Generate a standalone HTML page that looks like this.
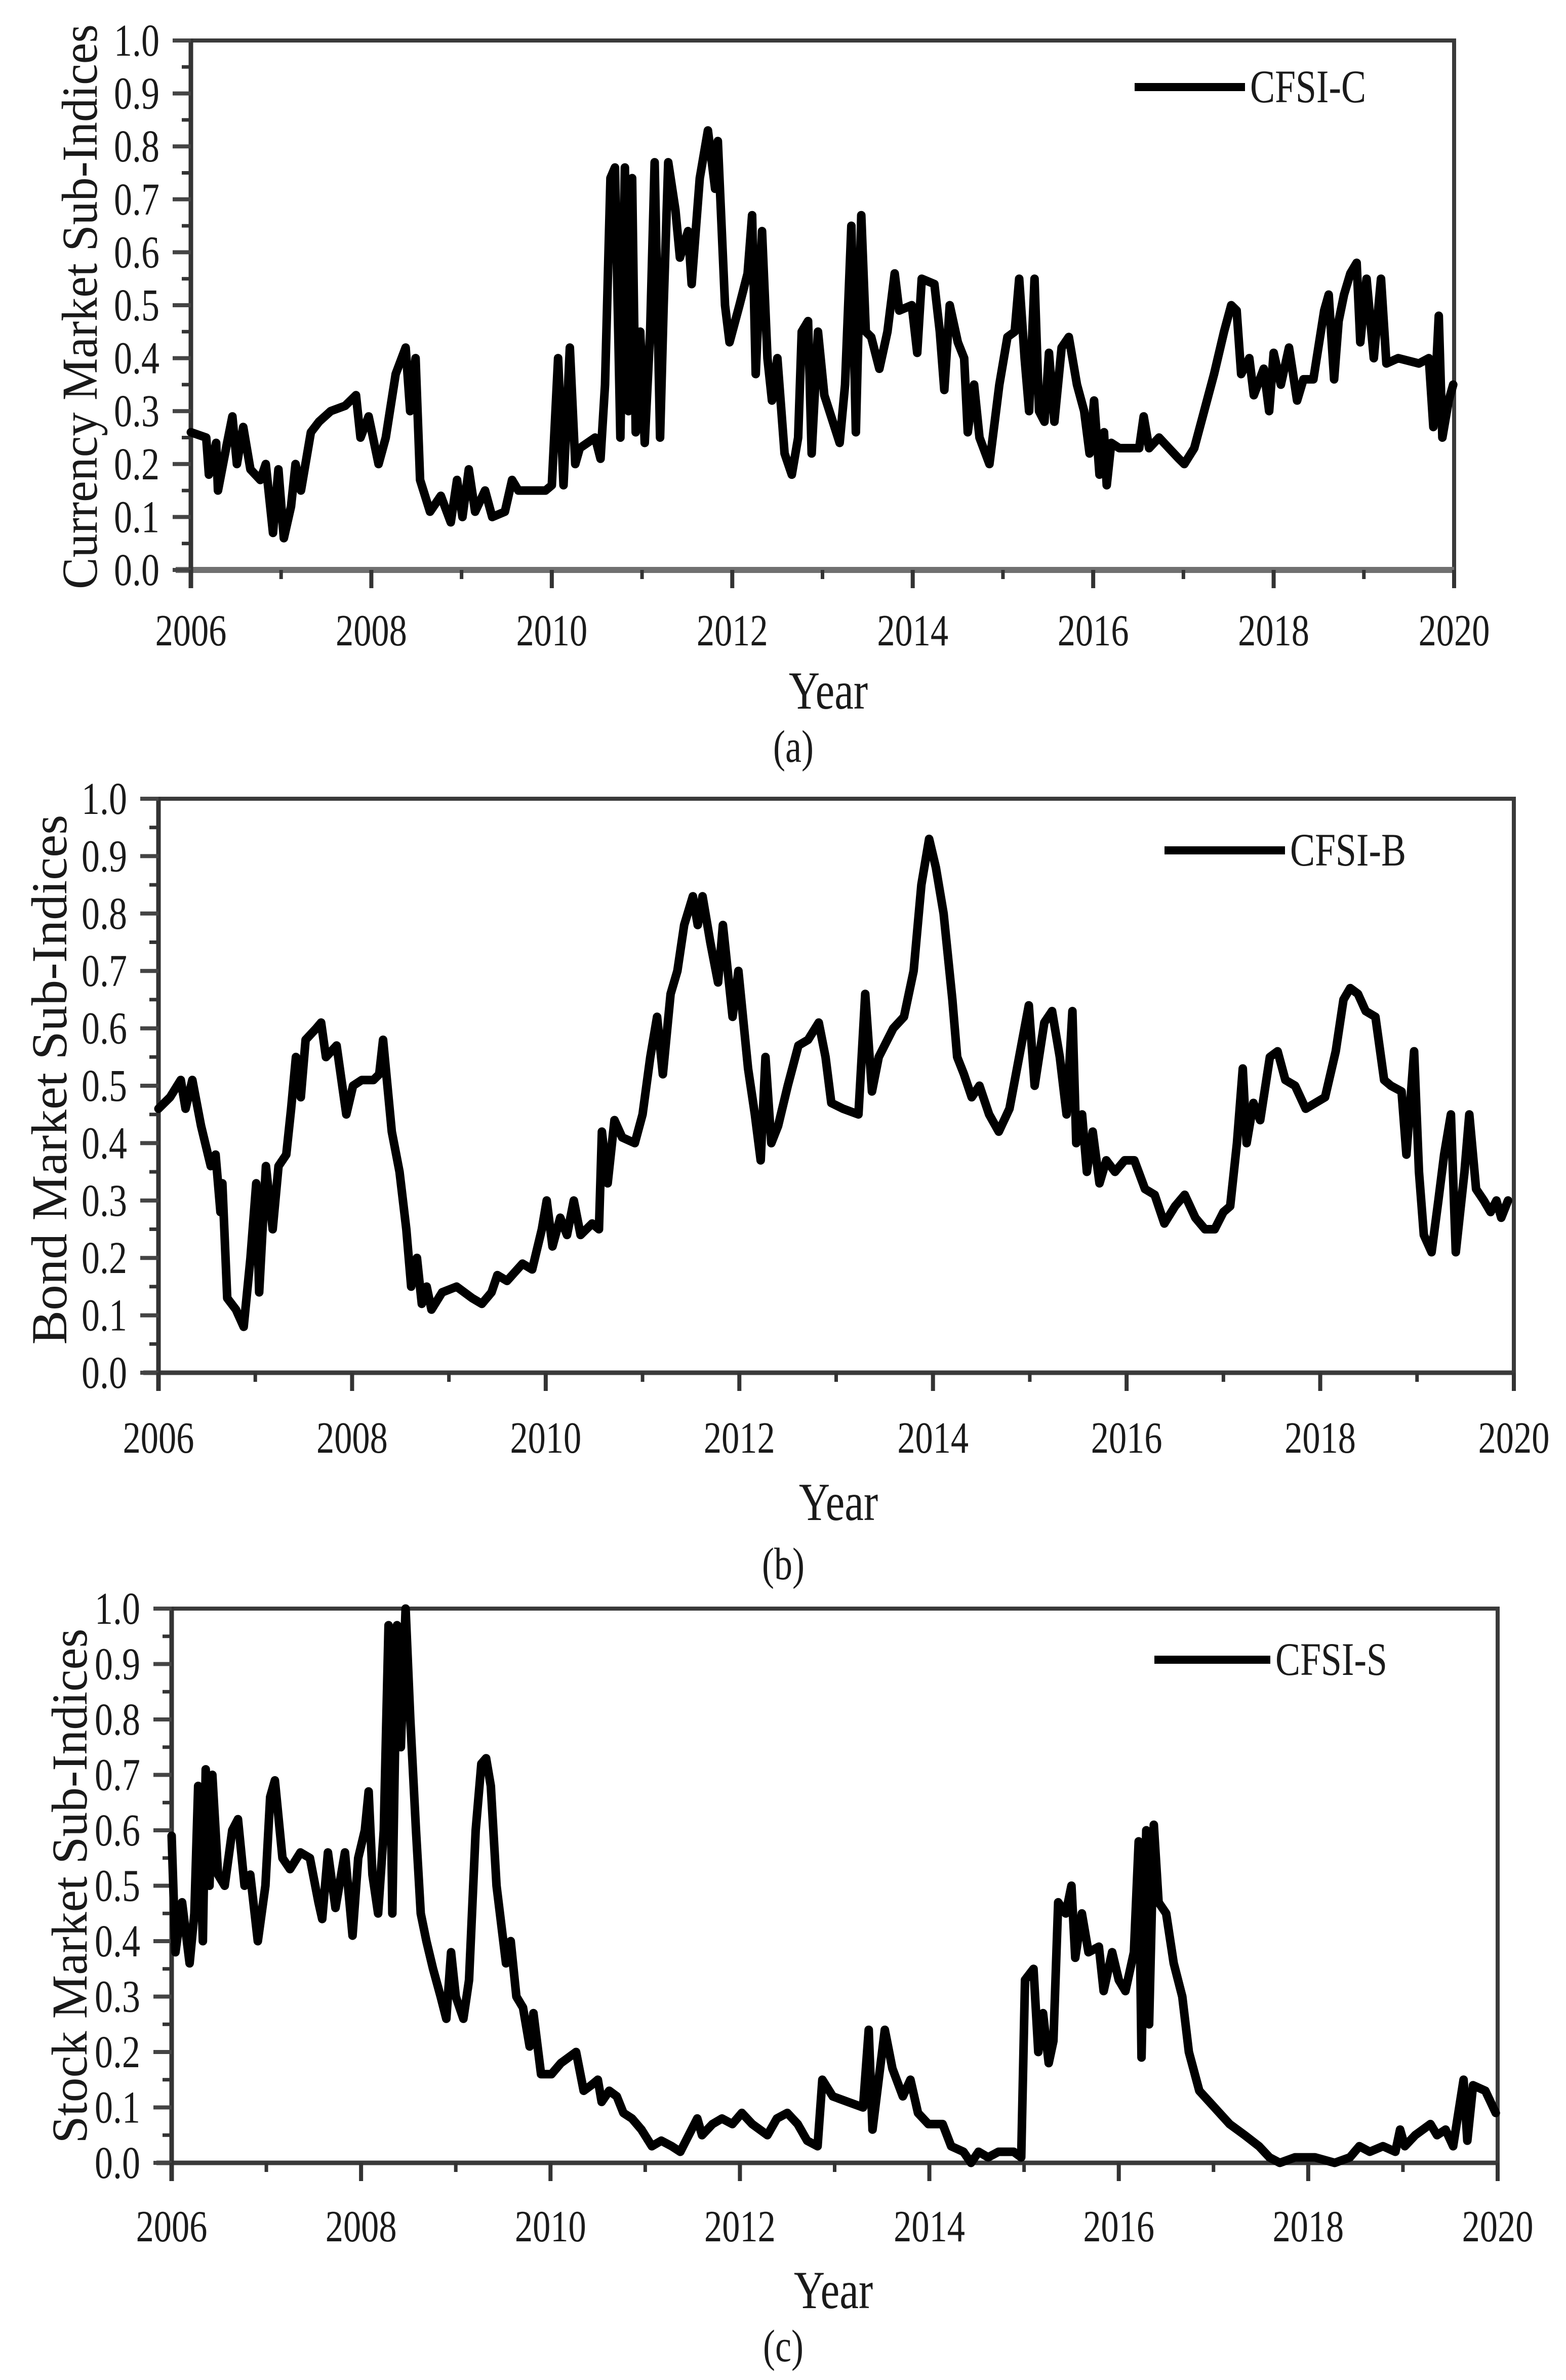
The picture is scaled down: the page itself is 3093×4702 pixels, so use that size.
<!DOCTYPE html>
<html><head><meta charset="utf-8"><style>
html,body{margin:0;padding:0;background:#fff;}
svg{display:block;}
text{font-family:"Liberation Serif",serif;fill:#1a1a1a;}
</style></head><body>
<svg id="fig" width="3093" height="4702" viewBox="0 0 3093 4702" xmlns="http://www.w3.org/2000/svg"></svg>
<script>
// ---- Data ----
const yTicks = [0.0,0.1,0.2,0.3,0.4,0.5,0.6,0.7,0.8,0.9,1.0];
const xTickYears = [2006,2008,2010,2012,2014,2016,2018,2020];
const seriesNames = ["CFSI-C","CFSI-B","CFSI-S"];
const axisTitles = ["Currency Market Sub-Indices","Bond Market Sub-Indices","Stock Market Sub-Indices"];
const panelLabels = ["(a)","(b)","(c)"];

const currencyOffsets = [0,.17,.20,.28,.30,.39,.46,.51,.58,.66,.77,.83,.91,.97,1.03,1.11,1.16,1.22,1.33,1.42,1.55,1.71,1.83,1.88,1.97,2.08,2.16,2.27,2.38,2.43,2.49,2.54,2.65,2.77,2.88,2.95,3.01,3.08,3.15,3.26,3.34,3.48,3.56,3.63,3.76,3.93,4.00,4.07,4.13,4.20,4.26,4.31,4.48,4.54,4.59,4.65,4.70,4.76,4.81,4.85,4.89,4.93,4.98,5.03,5.09,5.14,5.20,5.24,5.29,5.37,5.42,5.51,5.55,5.64,5.73,5.81,5.84,5.92,5.97,6.08,6.17,6.22,6.26,6.33,6.39,6.44,6.50,6.58,6.66,6.73,6.77,6.84,6.88,6.95,7.02,7.19,7.25,7.32,7.37,7.43,7.48,7.54,7.63,7.72,7.80,7.85,7.99,8.05,8.10,8.24,8.30,8.35,8.41,8.50,8.57,8.61,8.68,8.74,8.85,8.96,9.05,9.13,9.18,9.24,9.29,9.35,9.40,9.46,9.51,9.57,9.65,9.73,9.82,9.90,9.96,10.01,10.07,10.12,10.15,10.20,10.29,10.51,10.56,10.62,10.73,10.84,10.95,11.01,11.12,11.23,11.34,11.45,11.53,11.59,11.64,11.73,11.78,11.89,11.95,12.00,12.08,12.17,12.26,12.33,12.44,12.56,12.61,12.67,12.72,12.78,12.85,12.92,12.96,13.03,13.11,13.19,13.25,13.38,13.61,13.72,13.77,13.83,13.87,13.94,13.99];
const currencyValues = [.26,.25,.18,.24,.15,.23,.29,.20,.27,.19,.17,.20,.07,.19,.06,.12,.20,.15,.26,.28,.30,.31,.33,.25,.29,.20,.25,.37,.42,.30,.40,.17,.11,.14,.09,.17,.10,.19,.11,.15,.10,.11,.17,.15,.15,.15,.16,.40,.16,.42,.20,.23,.25,.21,.35,.74,.76,.25,.76,.30,.74,.26,.45,.24,.45,.77,.25,.50,.77,.68,.59,.64,.54,.74,.83,.72,.81,.50,.43,.50,.56,.67,.37,.64,.40,.32,.40,.22,.18,.25,.45,.47,.22,.45,.33,.24,.35,.65,.26,.67,.45,.44,.38,.45,.56,.49,.50,.41,.55,.54,.45,.34,.50,.43,.40,.26,.35,.25,.20,.35,.44,.45,.55,.40,.30,.55,.30,.28,.41,.28,.42,.44,.35,.30,.22,.32,.18,.26,.16,.24,.23,.23,.29,.23,.25,.23,.21,.20,.23,.30,.37,.45,.50,.49,.37,.40,.33,.38,.30,.41,.35,.42,.32,.36,.36,.49,.52,.36,.47,.52,.56,.58,.43,.55,.40,.55,.39,.40,.39,.40,.27,.48,.25,.32,.35];

const bondOffsets = [0,.12,.23,.28,.35,.44,.54,.59,.64,.66,.71,.80,.88,.95,1.01,1.04,1.11,1.18,1.24,1.32,1.37,1.42,1.47,1.52,1.63,1.68,1.73,1.84,1.94,2.01,2.10,2.22,2.28,2.32,2.41,2.49,2.56,2.61,2.67,2.72,2.77,2.82,2.93,3.08,3.24,3.34,3.44,3.50,3.60,3.76,3.86,3.96,4.01,4.07,4.15,4.22,4.29,4.36,4.48,4.55,4.58,4.64,4.71,4.79,4.92,5.00,5.08,5.15,5.21,5.29,5.36,5.43,5.52,5.57,5.62,5.70,5.78,5.83,5.93,5.99,6.09,6.16,6.22,6.27,6.33,6.40,6.50,6.61,6.71,6.82,6.89,6.95,7.07,7.23,7.30,7.37,7.44,7.59,7.70,7.80,7.88,7.96,8.03,8.11,8.20,8.25,8.32,8.40,8.48,8.58,8.68,8.79,8.89,8.99,9.05,9.15,9.23,9.31,9.38,9.44,9.48,9.54,9.59,9.65,9.72,9.79,9.88,9.98,10.08,10.19,10.29,10.39,10.50,10.60,10.71,10.81,10.91,11.00,11.07,11.14,11.20,11.24,11.31,11.38,11.48,11.56,11.64,11.74,11.85,11.95,12.05,12.16,12.24,12.31,12.39,12.47,12.57,12.66,12.73,12.84,12.89,12.97,13.02,13.07,13.15,13.22,13.28,13.35,13.40,13.49,13.54,13.61,13.69,13.76,13.82,13.87,13.94];
const bondValues = [.46,.48,.51,.46,.51,.43,.36,.38,.28,.33,.13,.11,.08,.20,.33,.14,.36,.25,.36,.38,.46,.55,.48,.58,.60,.61,.55,.57,.45,.50,.51,.51,.52,.58,.42,.35,.25,.15,.20,.12,.15,.11,.14,.15,.13,.12,.14,.17,.16,.19,.18,.25,.30,.22,.27,.24,.30,.24,.26,.25,.42,.33,.44,.41,.40,.45,.55,.62,.52,.66,.70,.78,.83,.78,.83,.75,.68,.78,.62,.70,.53,.45,.37,.55,.40,.43,.50,.57,.58,.61,.55,.47,.46,.45,.66,.49,.55,.60,.62,.70,.85,.93,.88,.80,.65,.55,.52,.48,.50,.45,.42,.46,.55,.64,.50,.61,.63,.55,.45,.63,.40,.45,.35,.42,.33,.37,.35,.37,.37,.32,.31,.26,.29,.31,.27,.25,.25,.28,.29,.40,.53,.40,.47,.44,.55,.56,.51,.50,.46,.47,.48,.56,.65,.67,.66,.63,.62,.51,.50,.49,.38,.56,.35,.24,.21,.30,.38,.45,.21,.35,.45,.32,.30,.28,.30,.27,.30];

const stockOffsets = [0,.04,.11,.19,.24,.28,.33,.36,.40,.43,.49,.56,.64,.70,.77,.83,.91,.99,1.04,1.09,1.17,1.25,1.36,1.46,1.55,1.59,1.65,1.73,1.83,1.91,1.97,2.04,2.08,2.12,2.18,2.24,2.29,2.33,2.38,2.42,2.47,2.52,2.58,2.63,2.69,2.76,2.84,2.90,2.95,3.00,3.08,3.14,3.21,3.27,3.32,3.37,3.43,3.53,3.58,3.64,3.71,3.78,3.82,3.90,4.01,4.11,4.27,4.35,4.43,4.50,4.54,4.62,4.70,4.77,4.86,4.96,5.07,5.17,5.28,5.37,5.49,5.55,5.60,5.71,5.81,5.92,6.02,6.13,6.29,6.39,6.50,6.61,6.71,6.82,6.87,6.98,7.14,7.30,7.36,7.40,7.53,7.61,7.72,7.80,7.88,7.99,8.14,8.23,8.36,8.44,8.52,8.62,8.73,8.89,8.97,9.01,9.10,9.15,9.20,9.26,9.31,9.36,9.44,9.50,9.54,9.61,9.68,9.79,9.84,9.93,10.00,10.07,10.16,10.21,10.24,10.29,10.32,10.37,10.42,10.50,10.58,10.67,10.74,10.85,11.01,11.17,11.33,11.48,11.59,11.70,11.86,12.07,12.28,12.44,12.54,12.65,12.79,12.92,12.97,13.02,13.13,13.29,13.36,13.45,13.53,13.64,13.68,13.74,13.87,13.98];
const stockValues = [.59,.38,.47,.36,.45,.68,.40,.71,.50,.70,.52,.50,.60,.62,.50,.52,.40,.50,.66,.69,.55,.53,.56,.55,.47,.44,.56,.46,.56,.41,.55,.60,.67,.52,.45,.60,.97,.45,.97,.75,1.0,.80,.60,.45,.40,.35,.30,.26,.38,.30,.26,.33,.60,.72,.73,.68,.50,.36,.40,.30,.28,.21,.27,.16,.16,.18,.20,.13,.14,.15,.11,.13,.12,.09,.08,.06,.03,.04,.03,.02,.06,.08,.05,.07,.08,.07,.09,.07,.05,.08,.09,.07,.04,.03,.15,.12,.11,.10,.24,.06,.24,.17,.12,.15,.09,.07,.07,.03,.02,0,.02,.01,.02,.02,.01,.33,.35,.20,.27,.18,.22,.47,.45,.50,.37,.45,.38,.39,.31,.38,.33,.31,.38,.58,.19,.60,.25,.61,.47,.45,.36,.30,.20,.13,.10,.07,.05,.03,.01,0,.01,.01,0,.01,.03,.02,.03,.02,.06,.03,.05,.07,.05,.06,.03,.15,.04,.14,.13,.09];

const allOffsets = [currencyOffsets, bondOffsets, stockOffsets];
const allValues = [currencyValues, bondValues, stockValues];

// ---- Layout (pixels, not data) ----
const panels = [
  {L:377,R:2872,T:80,B:1126, tickLabelY:1245, titleX:159, titleY:606, titleLen:1116, yearY:1400, capY:1505, legX:2241,legX2:2459,legY:172, capX:1567, yearX:1636},
  {L:313,R:2990,T:1578,B:2712, tickLabelY:2840, titleX:99, titleY:2133, titleLen:1047, yearY:3003, capY:3120, legX:2300,legX2:2538,legY:1680, capX:1547, yearX:1656},
  {L:339,R:2958,T:3178,B:4273, tickLabelY:4398, titleX:139, titleY:3726, titleLen:1017, yearY:4560, capY:4665, legX:2280,legX2:2509,legY:3279, capX:1547, yearX:1646}
];
const NS = "http://www.w3.org/2000/svg";
const svg = document.getElementById('fig');
function mk(tag, attrs, parent){ const e=document.createElementNS(NS,tag); for(const k in attrs) e.setAttribute(k,attrs[k]); (parent||svg).appendChild(e); return e; }
// condensed text: tall font squeezed horizontally
function ctext(parent, x, y, size, anchor, str){
  const t = mk('text',{x:0,y:0,'text-anchor':anchor,'font-size':size,transform:`translate(${x},${y}) scale(0.8,1)`},parent);
  t.textContent = str;
  return t;
}

panels.forEach((p,i)=>{
  const g = mk('g',{});
  
  
  const xs = y => p.L + (y-2006)/14*(p.R-p.L);
  const ys = v => p.B - v*(p.B-p.T);

  const fr = mk('rect',{x:p.L,y:p.T,width:p.R-p.L,height:p.B-p.T,fill:'none',stroke:'#3a3a3a','stroke-width':8},g);
  
  
  const xa = mk('line',{x1:p.L-30,y1:p.B,x2:p.R,y2:p.B,stroke:i==0?'#707070':'#3a3a3a','stroke-width':i==0?12:9},g);
  
  
  const ya = mk('line',{x1:p.L,y1:p.T-4,x2:p.L,y2:p.B+36,stroke:'#333','stroke-width':9},g);
  
  

  yTicks.forEach((t,k)=>{
    const y = ys(t);
    const tk = mk('line',{x1:p.L-36,y1:y,x2:p.L,y2:y,stroke:'#444','stroke-width':8},g);
    
    
    if(k<yTicks.length-1){
      const ym = ys(t+0.05);
      const mt = mk('line',{x1:p.L-18,y1:ym,x2:p.L,y2:ym,stroke:'#333','stroke-width':7},g);
      
      
    }
    const lb = ctext(g, p.L-62, y+30, 90, 'end', t.toFixed(1));
    
    
  });
  xTickYears.forEach((yr,k)=>{
    const x = xs(yr);
    const tk = mk('line',{x1:x,y1:p.B,x2:x,y2:p.B+36,stroke:'#333','stroke-width':8},g);
    
    
    if(k<xTickYears.length-1){
      const xm = xs(yr+1);
      const mt = mk('line',{x1:xm,y1:p.B,x2:xm,y2:p.B+18,stroke:'#333','stroke-width':7},g);
      
      
    }
    const lb = ctext(g, x, p.tickLabelY+30, 88, 'middle', String(yr));
    
    
  });

  const offs = allOffsets[i], vals = allValues[i];
  let d = '';
  offs.forEach((o,k)=>{ d += (k?'L':'M') + xs(2006+o).toFixed(1) + ' ' + ys(vals[k]).toFixed(1) + ' '; });
  const path = mk('path',{d:d,fill:'none',stroke:'#000','stroke-width':17,'stroke-linejoin':'round','stroke-linecap':'round'},g);
  
  

  const lg = mk('g',{},g);
  
  
  const ll = mk('line',{x1:p.legX,y1:p.legY,x2:p.legX2,y2:p.legY,stroke:'#000','stroke-width':16},lg);
  
  
  const lt = ctext(lg, p.legX2+10, p.legY+30, 92, 'start', seriesNames[i]);
  
  

  const yt = mk('text',{x:0,y:0,'text-anchor':'middle','font-size':100,transform:`translate(${p.titleX+32},${p.titleY}) rotate(-90)`,textLength:p.titleLen,lengthAdjust:'spacingAndGlyphs'},g);
  yt.textContent = axisTitles[i];
  
  
  const xt = ctext(g, p.yearX, p.yearY, 106, 'middle', 'Year');
  
  
  const cp = ctext(g, p.capX, p.capY, 90, 'middle', panelLabels[i]);
  
  
});
</script>
</body></html>
